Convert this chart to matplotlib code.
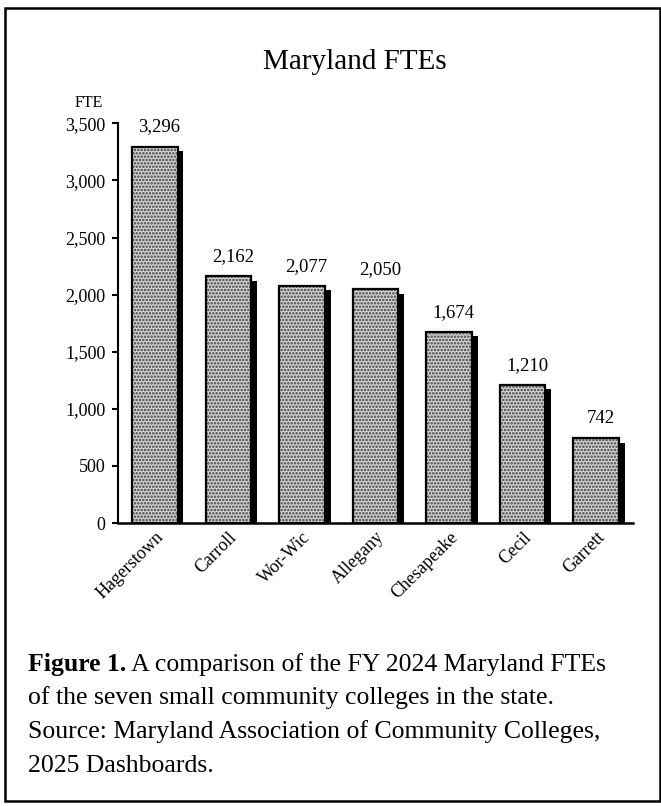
import matplotlib.pyplot as plt
from matplotlib.patches import Rectangle
from matplotlib.ticker import FuncFormatter

plt.rcParams['font.family'] = ['Liberation Serif', 'DejaVu Serif']
plt.rcParams['hatch.linewidth'] = 1.2

# Data
colleges = ['Hagerstown', 'Carroll', 'Wor-Wic', 'Allegany', 'Chesapeake', 'Cecil', 'Garrett']
ftes = [3296, 2162, 2077, 2050, 1674, 1210, 742]
yticks = [0, 500, 1000, 1500, 2000, 2500, 3000, 3500]

fig = plt.figure(figsize=(6.61, 8.06), dpi=100)
ax = fig.add_axes([0.1785, 0.351, 0.779, 0.496])

x = list(range(len(colleges)))
w = 0.62

# bayangan hitam di kanan bar
ax.bar([i + 0.08 for i in x], [v - 40 for v in ftes], width=w, color='black', zorder=1)
# isi bar bertekstur
ax.bar(x, ftes, width=w, color='#d4d4d4', edgecolor='#3a3a3a', linewidth=0,
       hatch='.....', zorder=2)
# garis tepi
ax.bar(x, ftes, width=w, fill=False, edgecolor='black', linewidth=1.6, zorder=3)

for i, v in zip(x, ftes):
    ax.annotate(f"{v:,}", (i + 0.06, v), xytext=(0, 8), textcoords='offset points',
                ha='center', va='bottom', fontsize=13.5)

ax.set_xlim(-0.5, 6.5)
ax.set_ylim(0, 3500)
ax.set_yticks(yticks)
ax.yaxis.set_major_formatter(FuncFormatter(lambda v, p: f"{int(v):,}"))
ax.tick_params(axis='y', labelsize=13, length=4, width=1.5, pad=5)
ax.set_xticks(x)
ax.set_xticklabels(colleges, rotation=45, ha='right', rotation_mode='anchor', fontsize=13)
ax.tick_params(axis='x', length=0, pad=4)

for s in ['top', 'right']:
    ax.spines[s].set_visible(False)
ax.spines['left'].set_linewidth(1.5)
ax.spines['bottom'].set_linewidth(1.8)

fig.text(0.113, 0.862, 'FTE', fontsize=11.5, ha='left', va='bottom')
fig.text(0.537, 0.923, 'Maryland FTEs', fontsize=21, ha='center', va='center')

# caption
cap = 18.5
t1 = fig.text(0.042, 0.168, 'Figure 1.', fontsize=cap, fontweight='bold', ha='left', va='baseline')
ax.annotate(' A comparison of the FY 2024 Maryland FTEs', xy=(1, 0), xycoords=t1,
            fontsize=cap, ha='left', va='bottom', annotation_clip=False)
fig.text(0.042, 0.126, 'of the seven small community colleges in the state.', fontsize=cap, ha='left', va='baseline')
fig.text(0.042, 0.084, 'Source: Maryland Association of Community Colleges,', fontsize=cap, ha='left', va='baseline')
fig.text(0.042, 0.042, '2025 Dashboards.', fontsize=cap, ha='left', va='baseline')

# bingkai luar
fig.patches.append(Rectangle((0.008, 0.006), 0.99, 0.984, transform=fig.transFigure,
                             fill=False, edgecolor='black', linewidth=1.8))

fig.savefig('out.png', dpi=100)
